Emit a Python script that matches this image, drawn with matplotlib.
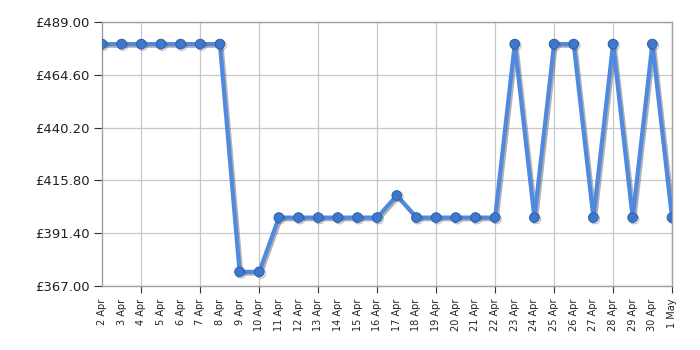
import matplotlib
matplotlib.use("Agg")
import matplotlib.pyplot as plt
import matplotlib.patheffects as pe
from matplotlib.ticker import FixedLocator, FixedFormatter

dates = ["2 Apr", "3 Apr", "4 Apr", "5 Apr", "6 Apr", "7 Apr", "8 Apr", "9 Apr", "10 Apr",
         "11 Apr", "12 Apr", "13 Apr", "14 Apr", "15 Apr", "16 Apr", "17 Apr", "18 Apr",
         "19 Apr", "20 Apr", "21 Apr", "22 Apr", "23 Apr", "24 Apr", "25 Apr", "26 Apr",
         "27 Apr", "28 Apr", "29 Apr", "30 Apr", "1 May"]
prices = [478.8, 478.8, 478.8, 478.8, 478.8, 478.8, 478.8, 373.5, 373.5,
          398.6, 398.6, 398.6, 398.6, 398.6, 398.6, 408.8, 398.6,
          398.6, 398.6, 398.6, 398.6, 478.8, 398.6, 478.8, 478.8,
          398.6, 478.8, 398.6, 478.8, 398.6]
yticks = [367.00, 391.40, 415.80, 440.20, 464.60, 489.00]
ytick_labels = ["£367.00", "£391.40", "£415.80", "£440.20", "£464.60", "£489.00"]

fig = plt.figure(figsize=(7, 3.5), dpi=100)
ax = fig.add_axes([0.1457, 0.183, 0.8143, 0.754])

x = list(range(len(dates)))
ax.plot(x, prices, color="#4f8ae0", lw=3, solid_joinstyle="round", zorder=3,
        path_effects=[pe.SimpleLineShadow(offset=(1.2, -1.2), shadow_color="#555555", alpha=0.45),
                      pe.Normal()])
ax.plot(x, prices, ls="none", marker="o", ms=7, mfc="#3d78cc", mec="#2d5fa6", mew=0.7, zorder=4,
        path_effects=[pe.SimpleLineShadow(offset=(1.0, -1.0), shadow_color="#444444", alpha=0.4),
                      pe.Normal()])

ax.set_xlim(0, len(dates) - 1)
ax.set_ylim(367, 489)
ax.set_yticks(yticks)
ax.set_yticklabels(ytick_labels, fontsize=9.5, color="#222222")

major = list(range(2, len(dates), 3))
ax.xaxis.remove_overlapping_locs = False
ax.xaxis.set_major_locator(FixedLocator(major))
ax.xaxis.set_major_formatter(FixedFormatter([""] * len(major)))
ax.xaxis.set_minor_locator(FixedLocator(x))
ax.xaxis.set_minor_formatter(FixedFormatter(dates))
ax.tick_params(axis="x", which="minor", length=0, labelsize=7, rotation=90, pad=9, labelcolor="#222222")
ax.tick_params(axis="x", which="major", length=5, color="#333333")
ax.tick_params(axis="y", length=6, color="#333333", pad=3)

ax.grid(True, which="major", color="#c8c8c8", lw=0.9)
ax.set_axisbelow(True)
for s in ax.spines.values():
    s.set_color("#a0a0a0")
    s.set_linewidth(1)

fig.savefig("out.png", dpi=100)
